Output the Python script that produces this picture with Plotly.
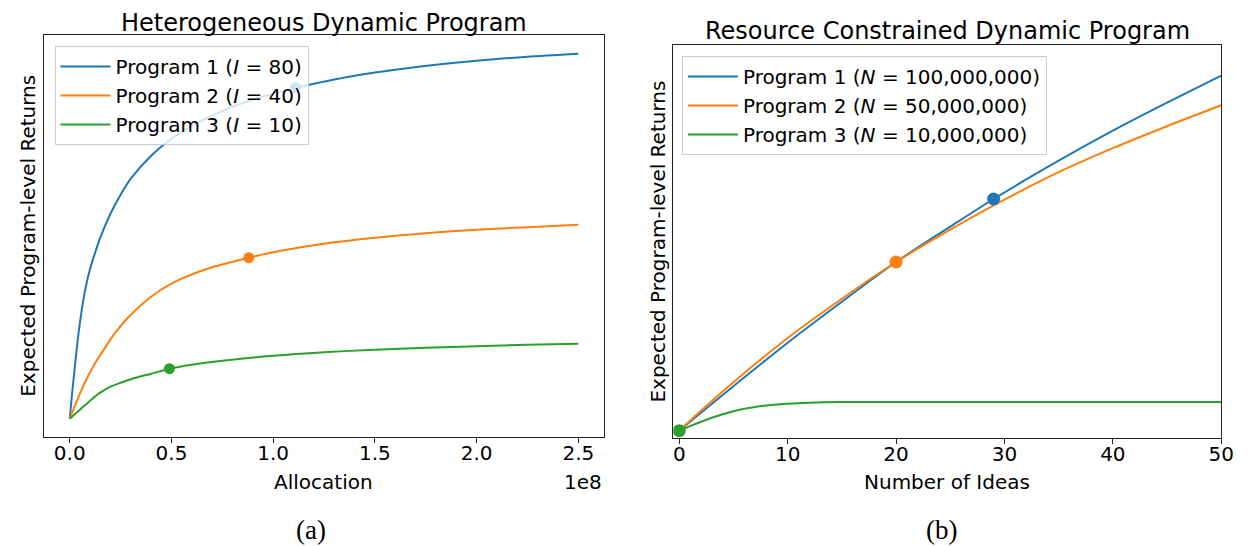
import plotly.graph_objects as go

# ---- left panel: Heterogeneous Dynamic Program (x in units of 1e8) ----
alloc_p1 = [0, 0.01, 0.02, 0.04, 0.06, 0.08, 0.1, 0.12, 0.15, 0.2, 0.25, 0.3, 0.4, 0.5,
            0.6, 0.7, 0.8, 1.0, 1.2, 1.4, 1.6, 1.8, 2.0, 2.25, 2.5]
ret_p1 = [0, 22, 42, 80, 110, 133, 150, 163, 181, 205, 224, 240, 263, 280,
          293, 303, 312, 325, 335, 343, 349, 354, 358, 362, 365]

alloc_p2 = [0, 0.02, 0.05, 0.086, 0.12, 0.167, 0.22, 0.3, 0.427, 0.55, 0.7, 0.88, 1.0,
            1.25, 1.5, 1.75, 2.0, 2.25, 2.5]
ret_p2 = [0, 10, 25, 41, 54, 69, 85, 104, 126, 140, 151.5, 161, 166.5,
          175, 181, 185.5, 189, 191.5, 194]

alloc_p3 = [0, 0.05, 0.1, 0.15, 0.2, 0.25, 0.3, 0.4, 0.49, 0.6, 0.75, 1.0, 1.25, 1.5,
            1.75, 2.0, 2.25, 2.5]
ret_p3 = [0, 9, 18, 26, 32, 36, 39.5, 45, 50, 54, 58, 63, 66.5, 69, 71, 72.5, 74, 75]

# chosen allocations (dots)
left_dot_x = [1.11, 0.88, 0.49]
left_dot_y = [331, 161, 50]

alloc_ticks = [0.0, 0.5, 1.0, 1.5, 2.0, 2.5]
left_names = ["Program 1 (<i>I</i> = 80)", "Program 2 (<i>I</i> = 40)", "Program 3 (<i>I</i> = 10)"]

# ---- right panel: Resource Constrained Dynamic Program ----
ideas_p1 = [0, 2, 5, 10, 15, 20, 25, 29, 35, 40, 45, 50]
rc_p1 = [0, 18, 44.5, 88, 129, 168.7, 204, 231.7, 270, 300, 328, 355]

ideas_p2 = [0, 2, 5, 10, 15, 20, 25, 30, 35, 40, 45, 50]
rc_p2 = [0, 20, 48.5, 92.7, 132, 168.7, 201, 231, 258.5, 282.5, 304.5, 325.4]

ideas_p3 = [0, 1, 2, 3, 4, 5, 6, 7, 8, 10, 12, 15, 20, 30, 40, 50]
rc_p3 = [0, 4.5, 9, 13, 16.5, 19.5, 22, 23.8, 25.2, 27, 28, 28.6, 28.7, 28.7, 28.7, 28.7]

right_dot_x = [29, 20, 0]
right_dot_y = [231.7, 168.7, 0]

ideas_ticks = [0, 10, 20, 30, 40, 50]
right_names = ["Program 1 (<i>N</i> = 100,000,000)", "Program 2 (<i>N</i> = 50,000,000)",
               "Program 3 (<i>N</i> = 10,000,000)"]

colors = ["#1f77b4", "#ff7f0e", "#2ca02c"]
FONT = "DejaVu Sans"
W, H = 1250, 546

fig = go.Figure()

left_series = [(alloc_p1, ret_p1), (alloc_p2, ret_p2), (alloc_p3, ret_p3)]
for (xs, ys), name, c in zip(left_series, left_names, colors):
    fig.add_trace(go.Scatter(x=xs, y=ys, mode="lines", name=name,
                             line=dict(color=c, width=2, shape="spline", smoothing=0.8),
                             xaxis="x", yaxis="y", legend="legend"))
for i, c in enumerate(colors):
    fig.add_trace(go.Scatter(x=[left_dot_x[i]], y=[left_dot_y[i]], mode="markers",
                             marker=dict(color=c, size=11), showlegend=False,
                             xaxis="x", yaxis="y"))

right_series = [(ideas_p1, rc_p1), (ideas_p2, rc_p2), (ideas_p3, rc_p3)]
for (xs, ys), name, c in zip(right_series, right_names, colors):
    fig.add_trace(go.Scatter(x=xs, y=ys, mode="lines", name=name,
                             line=dict(color=c, width=2, shape="spline", smoothing=0.8),
                             xaxis="x2", yaxis="y2", legend="legend2"))
for i, c in enumerate(colors):
    fig.add_trace(go.Scatter(x=[right_dot_x[i]], y=[right_dot_y[i]], mode="markers",
                             marker=dict(color=c, size=13), showlegend=False,
                             xaxis="x2", yaxis="y2"))


def px(v):
    return v / W


def py(v):
    return 1 - v / H


axis_common = dict(showline=True, linecolor="#222", linewidth=1.3, mirror=True,
                   showgrid=False, zeroline=False)
tick_common = dict(ticks="outside", ticklen=5, tickwidth=1.2, tickcolor="#222",
                   ticklabelstandoff=-7)

fig.update_layout(
    width=W, height=H,
    margin=dict(l=0, r=0, t=0, b=0),
    paper_bgcolor="white", plot_bgcolor="white",
    font=dict(family=FONT, size=20, color="black"),
    xaxis=dict(domain=[px(36.7), px(602)], range=[-0.125, 2.625],
               tickvals=alloc_ticks, ticktext=["%.1f" % t for t in alloc_ticks],
               anchor="y", **tick_common, **axis_common),
    yaxis=dict(domain=[py(428.7), py(27.3)], range=[-18, 383.4],
               showticklabels=False, ticks="", anchor="x", **axis_common),
    xaxis2=dict(domain=[px(672.3), px(1226)], range=[-0.55, 50],
                tickvals=ideas_ticks, anchor="y2", **tick_common, **axis_common),
    yaxis2=dict(domain=[py(429.5), py(37.3)], range=[-6.8, 385.4],
                showticklabels=False, ticks="", anchor="x2", **axis_common),
    legend=dict(x=px(47), y=py(38), xanchor="left", yanchor="top",
                bgcolor="rgba(255,255,255,0.8)", bordercolor="#cccccc", borderwidth=1,
                font=dict(family=FONT, size=20), itemwidth=50),
    legend2=dict(x=px(681), y=py(48), xanchor="left", yanchor="top",
                 bgcolor="rgba(255,255,255,0.8)", bordercolor="#cccccc", borderwidth=1,
                 font=dict(family=FONT, size=20), itemwidth=50),
)

annots = [
    dict(text="Heterogeneous Dynamic Program", x=px(319), y=py(15), size=24),
    dict(text="Resource Constrained Dynamic Program", x=px(949), y=py(23), size=24),
    dict(text="Allocation", x=px(319), y=py(474), size=20),
    dict(text="Number of Ideas", x=px(949), y=py(474), size=20),
]
for a in annots:
    fig.add_annotation(text=a["text"], x=a["x"], y=a["y"], xref="paper", yref="paper",
                       xanchor="center", yanchor="middle", showarrow=False,
                       font=dict(family=FONT, size=a["size"], color="black"))

fig.add_annotation(text="1e8", x=px(602), y=py(474), xref="paper", yref="paper",
                   xanchor="right", yanchor="middle", showarrow=False,
                   font=dict(family=FONT, size=20, color="black"))
for xc, yc in [(20, 228), (657, 233.4)]:
    fig.add_annotation(text="Expected Program-level Returns", x=px(xc), y=py(yc),
                       xref="paper", yref="paper", xanchor="center", yanchor="middle",
                       textangle=-90, showarrow=False,
                       font=dict(family=FONT, size=20, color="black"))
for lbl, xc in [("(a)", 306), ("(b)", 943)]:
    fig.add_annotation(text=lbl, x=px(xc), y=py(522), xref="paper", yref="paper",
                       xanchor="center", yanchor="middle", showarrow=False,
                       font=dict(family="Liberation Serif", size=27, color="black"))

fig.write_html("out.html")
